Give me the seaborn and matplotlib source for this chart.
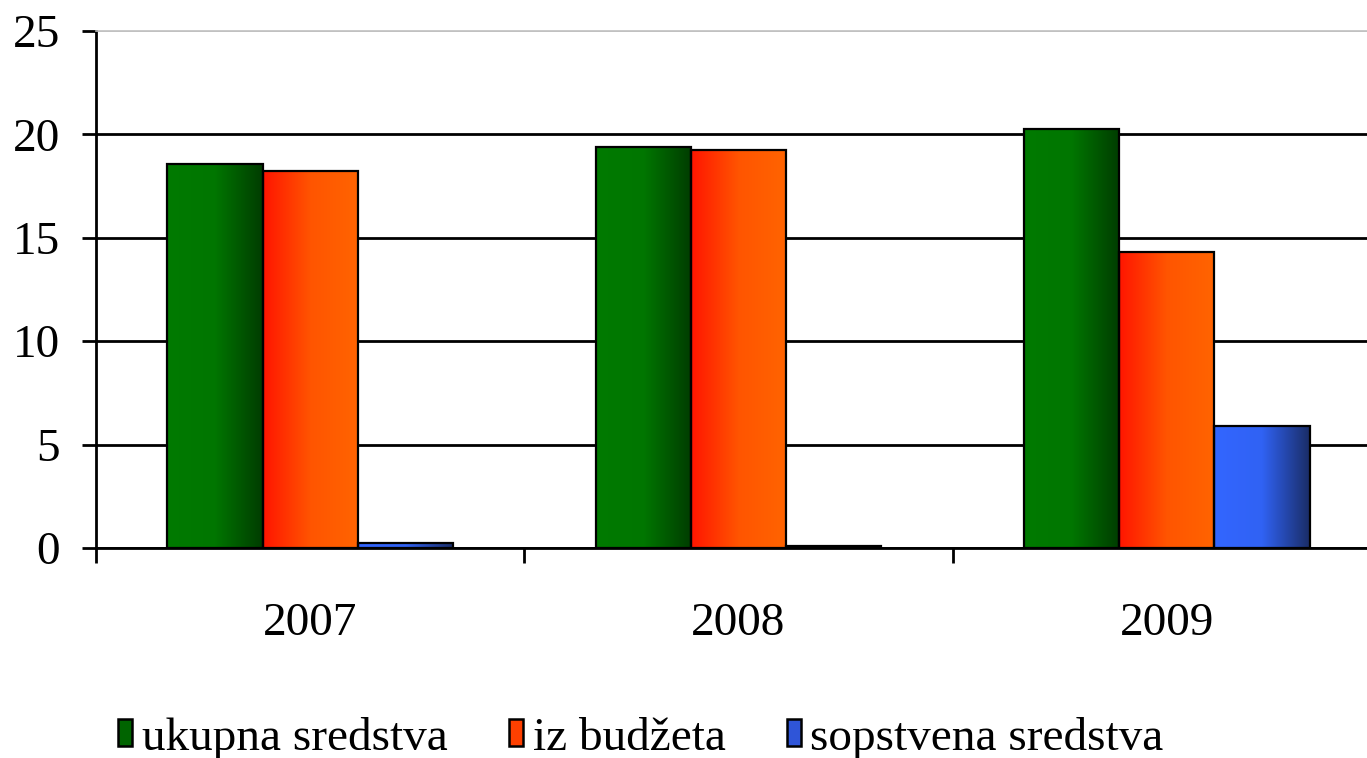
import numpy as np
import pandas as pd
import matplotlib
matplotlib.use("Agg")
import matplotlib.pyplot as plt
from matplotlib.colors import LinearSegmentedColormap
from matplotlib.patches import Patch
import seaborn as sns

# ---- data -------------------------------------------------------------
years = ["2007", "2008", "2009"]
series = ["ukupna sredstva", "iz budžeta", "sopstvena sredstva"]
ukupna = [18.55, 19.4, 20.25]
budzet = [18.25, 19.25, 14.3]
sopstvena = [0.25, 0.12, 5.9]
y_ticks = [0, 5, 10, 15, 20, 25]

# gradient stops (left -> right) for each series
gradients = {
    "ukupna sredstva": ["#007a00", "#007600", "#003c00"],
    "iz budžeta": ["#ff1500", "#ff5500", "#ff6400"],
    "sopstvena sredstva": ["#3366ff", "#3062f4", "#1a2d66"],
}
solid = {"ukupna sredstva": "#006400", "iz budžeta": "#ff4000",
         "sopstvena sredstva": "#2f55d8"}

df = pd.DataFrame({
    "year": years * 3,
    "series": np.repeat(series, len(years)),
    "value": ukupna + budzet + sopstvena,
})

sns.set_style("white")
plt.rcParams["font.family"] = ["Liberation Serif", "DejaVu Serif"]
plt.rcParams["text.color"] = "black"
plt.rcParams["xtick.color"] = "black"
plt.rcParams["ytick.color"] = "black"
plt.rcParams["xtick.labelcolor"] = "black"
plt.rcParams["ytick.labelcolor"] = "black"
FS = 34

fig = plt.figure(figsize=(13.67, 7.58), dpi=100)
ax = fig.add_axes([96 / 1367, 1 - 548 / 758, 1285 / 1367, 517 / 758])

sns.barplot(data=df, x="year", y="value", hue="series", hue_order=series,
            order=years, palette=solid, width=2 / 3, gap=0, legend=False,
            edgecolor="black", linewidth=1.6, ax=ax, zorder=3)

# replace flat fill with horizontal gradients clipped to each bar
for i, patch in enumerate(ax.patches):
    name = series[i // len(years)]
    cmap = LinearSegmentedColormap.from_list(name, gradients[name])
    x0, y0 = patch.get_x(), patch.get_y()
    w, h = patch.get_width(), patch.get_height()
    grad = np.linspace(0, 1, 256).reshape(1, -1)
    im = ax.imshow(grad, cmap=cmap, aspect="auto",
                   extent=(x0, x0 + w, y0, y0 + h), zorder=2.5,
                   interpolation="bilinear")
    im.set_clip_path(patch)
    patch.set_facecolor("none")

ax.set_xlim(-0.5, 2.5)
ax.set_ylim(0, 25)
ax.set_yticks(y_ticks)
ax.set_xlabel("")
ax.set_ylabel("")

# y grid
ax.set_axisbelow(True)
ax.yaxis.grid(True, color="black", linewidth=2)
ax.yaxis.get_gridlines()[-1].set_color("#c0c0c0")
ax.yaxis.get_gridlines()[-1].set_linewidth(1.2)

ax.spines["right"].set_visible(False)
ax.spines["top"].set_color("#c0c0c0")
ax.spines["top"].set_linewidth(1.2)
for side in ["left", "bottom"]:
    ax.spines[side].set_color("black")
    ax.spines[side].set_linewidth(2)

# category labels at centre, tick marks at the boundaries
ax.set_xticks(range(len(years)))
ax.set_xticklabels(years)
ax.set_xticks([-0.5, 0.5, 1.5], minor=True)
ax.tick_params(axis="x", which="major", length=0, pad=39, labelsize=FS)
ax.tick_params(axis="x", which="minor", length=11, width=2, color="black",
               direction="out", bottom=True)
ax.tick_params(axis="y", which="major", length=10, width=2, color="black",
               direction="out", left=True, pad=16, labelsize=FS)

handles = [Patch(facecolor=solid[s], edgecolor="black", linewidth=1.8,
                 label=s) for s in series]
fig.legend(handles=handles, loc="center", bbox_to_anchor=(641 / 1367, 1 - 738 / 758),
           ncol=3, frameon=False, fontsize=FS, handlelength=0.3,
           handleheight=0.5, handletextpad=0.2, columnspacing=1.3,
           borderaxespad=0)

fig.savefig("out.png", dpi=100)
